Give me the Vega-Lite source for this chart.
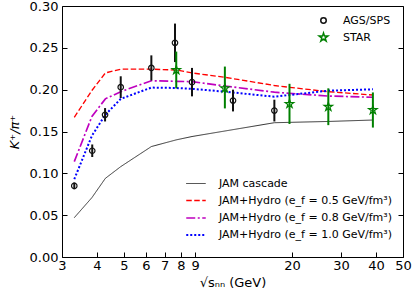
{
  "$schema": "https://vega.github.io/schema/vega-lite/v6.json",
  "width": 341,
  "height": 251,
  "autosize": {"type": "none"},
  "padding": {"left": 62, "top": 6, "right": 12, "bottom": 36},
  "config": {
    "font": "DejaVu Sans",
    "view": {"stroke": "black", "strokeWidth": 1},
    "axis": {"domain": false, "tickColor": "black", "tickSize": -5, "tickWidth": 1, "labelColor": "black", "titleColor": "black", "labelFontSize": 13, "titleFontSize": 13, "titleFontWeight": "normal", "grid": false}
  },
  "datasets": {
    "lines": [
      {"model": "JAM cascade", "s": 3.32, "r": 0.047},
      {"model": "JAM cascade", "s": 3.84, "r": 0.071},
      {"model": "JAM cascade", "s": 4.29, "r": 0.094},
      {"model": "JAM cascade", "s": 4.87, "r": 0.108},
      {"model": "JAM cascade", "s": 6.27, "r": 0.132},
      {"model": "JAM cascade", "s": 7.7, "r": 0.140},
      {"model": "JAM cascade", "s": 8.77, "r": 0.144},
      {"model": "JAM cascade", "s": 17.3, "r": 0.1605},
      {"model": "JAM cascade", "s": 27, "r": 0.162},
      {"model": "JAM cascade", "s": 39, "r": 0.1637},
      {"model": "JAM+Hydro (e_f = 0.5 GeV/fm³)", "s": 3.32, "r": 0.167},
      {"model": "JAM+Hydro (e_f = 0.5 GeV/fm³)", "s": 3.84, "r": 0.199},
      {"model": "JAM+Hydro (e_f = 0.5 GeV/fm³)", "s": 4.29, "r": 0.220},
      {"model": "JAM+Hydro (e_f = 0.5 GeV/fm³)", "s": 4.87, "r": 0.2245},
      {"model": "JAM+Hydro (e_f = 0.5 GeV/fm³)", "s": 6.27, "r": 0.2245},
      {"model": "JAM+Hydro (e_f = 0.5 GeV/fm³)", "s": 7.7, "r": 0.2235},
      {"model": "JAM+Hydro (e_f = 0.5 GeV/fm³)", "s": 8.77, "r": 0.220},
      {"model": "JAM+Hydro (e_f = 0.5 GeV/fm³)", "s": 11.5, "r": 0.2148},
      {"model": "JAM+Hydro (e_f = 0.5 GeV/fm³)", "s": 17.3, "r": 0.2050},
      {"model": "JAM+Hydro (e_f = 0.5 GeV/fm³)", "s": 19.6, "r": 0.2028},
      {"model": "JAM+Hydro (e_f = 0.5 GeV/fm³)", "s": 27, "r": 0.1976},
      {"model": "JAM+Hydro (e_f = 0.5 GeV/fm³)", "s": 39, "r": 0.1936},
      {"model": "JAM+Hydro (e_f = 0.8 GeV/fm³)", "s": 3.32, "r": 0.114},
      {"model": "JAM+Hydro (e_f = 0.8 GeV/fm³)", "s": 3.84, "r": 0.168},
      {"model": "JAM+Hydro (e_f = 0.8 GeV/fm³)", "s": 4.29, "r": 0.189},
      {"model": "JAM+Hydro (e_f = 0.8 GeV/fm³)", "s": 4.87, "r": 0.1976},
      {"model": "JAM+Hydro (e_f = 0.8 GeV/fm³)", "s": 6.27, "r": 0.2107},
      {"model": "JAM+Hydro (e_f = 0.8 GeV/fm³)", "s": 7.7, "r": 0.2100},
      {"model": "JAM+Hydro (e_f = 0.8 GeV/fm³)", "s": 8.77, "r": 0.2096},
      {"model": "JAM+Hydro (e_f = 0.8 GeV/fm³)", "s": 11.5, "r": 0.2044},
      {"model": "JAM+Hydro (e_f = 0.8 GeV/fm³)", "s": 17.3, "r": 0.1970},
      {"model": "JAM+Hydro (e_f = 0.8 GeV/fm³)", "s": 19.6, "r": 0.1956},
      {"model": "JAM+Hydro (e_f = 0.8 GeV/fm³)", "s": 27, "r": 0.1924},
      {"model": "JAM+Hydro (e_f = 0.8 GeV/fm³)", "s": 39, "r": 0.1909},
      {"model": "JAM+Hydro (e_f = 1.0 GeV/fm³)", "s": 3.32, "r": 0.093},
      {"model": "JAM+Hydro (e_f = 1.0 GeV/fm³)", "s": 3.84, "r": 0.145},
      {"model": "JAM+Hydro (e_f = 1.0 GeV/fm³)", "s": 4.29, "r": 0.170},
      {"model": "JAM+Hydro (e_f = 1.0 GeV/fm³)", "s": 4.87, "r": 0.189},
      {"model": "JAM+Hydro (e_f = 1.0 GeV/fm³)", "s": 6.27, "r": 0.2025},
      {"model": "JAM+Hydro (e_f = 1.0 GeV/fm³)", "s": 7.7, "r": 0.2020},
      {"model": "JAM+Hydro (e_f = 1.0 GeV/fm³)", "s": 8.77, "r": 0.2010},
      {"model": "JAM+Hydro (e_f = 1.0 GeV/fm³)", "s": 11.5, "r": 0.1976},
      {"model": "JAM+Hydro (e_f = 1.0 GeV/fm³)", "s": 17.3, "r": 0.1916},
      {"model": "JAM+Hydro (e_f = 1.0 GeV/fm³)", "s": 19.6, "r": 0.1936},
      {"model": "JAM+Hydro (e_f = 1.0 GeV/fm³)", "s": 27, "r": 0.1988},
      {"model": "JAM+Hydro (e_f = 1.0 GeV/fm³)", "s": 39, "r": 0.2004}
    ],
    "pts": [
      {"exp": "AGS/SPS", "s": 3.32, "r": 0.085, "lo": 0.081, "hi": 0.089},
      {"exp": "AGS/SPS", "s": 3.85, "r": 0.127, "lo": 0.1195, "hi": 0.1345},
      {"exp": "AGS/SPS", "s": 4.28, "r": 0.170, "lo": 0.162, "hi": 0.178},
      {"exp": "AGS/SPS", "s": 4.87, "r": 0.203, "lo": 0.190, "hi": 0.216},
      {"exp": "AGS/SPS", "s": 6.27, "r": 0.226, "lo": 0.211, "hi": 0.241},
      {"exp": "AGS/SPS", "s": 7.62, "r": 0.256, "lo": 0.233, "hi": 0.279},
      {"exp": "AGS/SPS", "s": 8.77, "r": 0.209, "lo": 0.192, "hi": 0.226},
      {"exp": "AGS/SPS", "s": 12.3, "r": 0.187, "lo": 0.174, "hi": 0.200},
      {"exp": "AGS/SPS", "s": 17.3, "r": 0.175, "lo": 0.162, "hi": 0.188},
      {"exp": "STAR", "s": 7.7, "r": 0.2235, "lo": 0.2015, "hi": 0.2455},
      {"exp": "STAR", "s": 11.5, "r": 0.2016, "lo": 0.1776, "hi": 0.2276},
      {"exp": "STAR", "s": 19.6, "r": 0.183, "lo": 0.159, "hi": 0.207},
      {"exp": "STAR", "s": 27, "r": 0.1796, "lo": 0.1576, "hi": 0.2016},
      {"exp": "STAR", "s": 39, "r": 0.1757, "lo": 0.1547, "hi": 0.1967}
    ]
  },
  "layer": [
    {
      "data": {"name": "lines"},
      "mark": {"type": "line", "strokeCap": "butt"},
      "encoding": {
        "x": {"field": "s", "type": "quantitative", "scale": {"type": "log", "domain": [3, 50], "nice": false},
              "axis": {"orient": "bottom", "values": [3, 4, 5, 6, 7, 8, 9, 20, 30, 40, 50], "format": "d", "labelPadding": 7, "labelFlush": false, "title": "√sₙₙ (GeV)", "titlePadding": 4}},
        "y": {"field": "r", "type": "quantitative", "scale": {"domain": [0, 0.3], "nice": false},
              "axis": {"orient": "left", "values": [0, 0.05, 0.1, 0.15, 0.2, 0.25, 0.3], "format": ".2f", "labelPadding": 9, "title": "K⁺/π⁺", "titleFontStyle": "italic", "titlePadding": 8}},
        "color": {"field": "model", "type": "nominal",
                  "scale": {"domain": ["JAM cascade", "JAM+Hydro (e_f = 0.5 GeV/fm³)", "JAM+Hydro (e_f = 0.8 GeV/fm³)", "JAM+Hydro (e_f = 1.0 GeV/fm³)"], "range": ["#333333", "#ff0000", "#bf00bf", "#0000ff"]},
                  "legend": {"title": null, "orient": "none", "legendX": 123, "legendY": 167, "symbolType": "stroke", "symbolSize": 380, "symbolStrokeWidth": 2, "labelFontSize": 11, "labelOffset": 12, "labelLimit": 400, "rowPadding": 1, "labelColor": "black"}},
        "strokeDash": {"field": "model", "type": "nominal",
                  "scale": {"domain": ["JAM cascade", "JAM+Hydro (e_f = 0.5 GeV/fm³)", "JAM+Hydro (e_f = 0.8 GeV/fm³)", "JAM+Hydro (e_f = 1.0 GeV/fm³)"], "range": [[1, 0], [5.5, 2.5], [9, 2.5, 2, 2.5], [2, 2]]},
                  "legend": {"title": null, "orient": "none", "legendX": 123, "legendY": 167, "symbolType": "stroke", "symbolSize": 380, "symbolStrokeWidth": 2, "labelFontSize": 11, "labelOffset": 12, "labelLimit": 400, "rowPadding": 1, "labelColor": "black"}},
        "strokeWidth": {"field": "model", "type": "nominal",
                  "scale": {"domain": ["JAM cascade", "JAM+Hydro (e_f = 0.5 GeV/fm³)", "JAM+Hydro (e_f = 0.8 GeV/fm³)", "JAM+Hydro (e_f = 1.0 GeV/fm³)"], "range": [1, 2, 2, 2]},
                  "legend": null}
      }
    },
    {
      "data": {"name": "pts"},
      "mark": {"type": "rule", "strokeWidth": 2},
      "encoding": {
        "x": {"field": "s", "type": "quantitative", "axis": null},
        "y": {"field": "lo", "type": "quantitative",
              "axis": {"orient": "right", "values": [0, 0.05, 0.1, 0.15, 0.2, 0.25, 0.3], "labels": false, "title": null}},
        "y2": {"field": "hi"},
        "color": {"field": "exp", "type": "nominal", "scale": {"domain": ["AGS/SPS", "STAR"], "range": ["#111111", "#008000"]}, "legend": null}
      }
    },
    {
      "data": {"name": "pts"},
      "mark": {"type": "point", "filled": false, "strokeWidth": 1.2, "opacity": 1},
      "encoding": {
        "x": {"field": "s", "type": "quantitative", "axis": null},
        "y": {"field": "r", "type": "quantitative", "axis": null},
        "color": {"field": "exp", "type": "nominal", "scale": {"domain": ["AGS/SPS", "STAR"], "range": ["#111111", "#008000"]},
                  "legend": {"title": null, "orient": "none", "legendX": 256, "legendY": 9, "labelFontSize": 11, "labelOffset": 14, "rowPadding": 3, "labelColor": "black"}},
        "shape": {"field": "exp", "type": "nominal", "scale": {"domain": ["AGS/SPS", "STAR"], "range": ["circle", "M0,-1L0.2245,-0.309L0.951,-0.309L0.363,0.118L0.588,0.809L0,0.382L-0.588,0.809L-0.363,0.118L-0.951,-0.309L-0.2245,-0.309Z"]},
                  "legend": {"title": null, "orient": "none", "legendX": 256, "legendY": 9, "labelFontSize": 11, "labelOffset": 14, "rowPadding": 3, "labelColor": "black"}},
        "size": {"field": "exp", "type": "nominal", "scale": {"domain": ["AGS/SPS", "STAR"], "range": [30, 80]}, "legend": null}
      }
    },
    {
      "mark": {"type": "text", "align": "left", "baseline": "middle", "fontSize": 11, "color": "black"},
      "encoding": {
        "x": {"datum": 3.2, "type": "quantitative", "axis": null},
        "y": {"datum": 0.283, "type": "quantitative", "axis": null},
        "text": {"value": "Midrapidity |y| < 0.5"}
      }
    }
  ],
  "resolve": {"scale": {"color": "independent", "shape": "independent", "strokeDash": "independent", "size": "independent", "strokeWidth": "independent"}, "axis": {"x": "independent", "y": "independent"}}
}
